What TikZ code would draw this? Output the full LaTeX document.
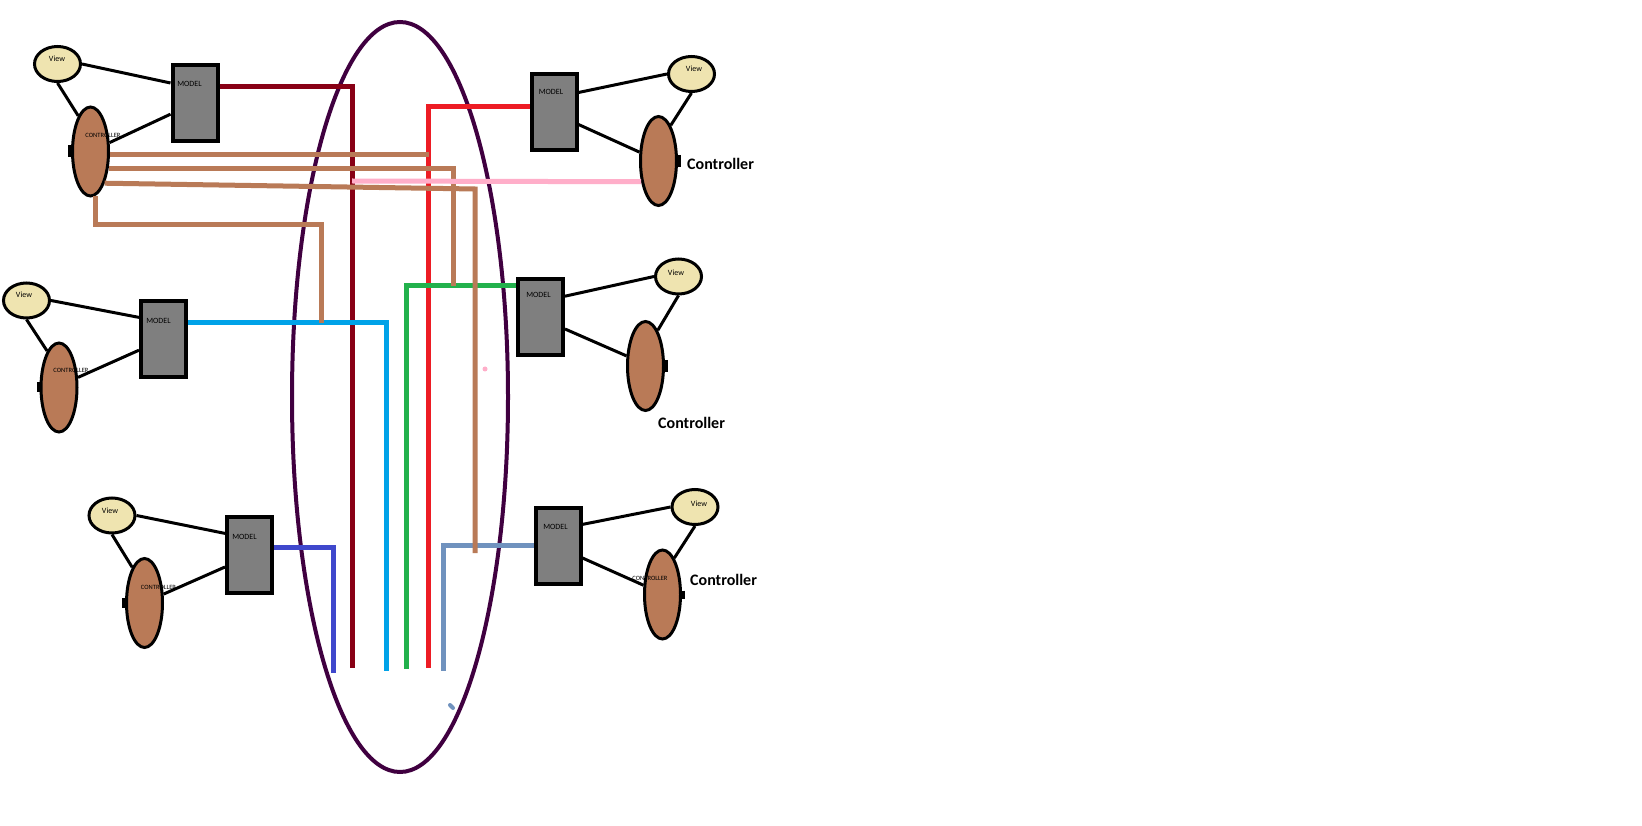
\documentclass[tikz,border=0pt]{standalone}
\usepackage{fontspec}
\setmainfont{Carlito}
\usetikzlibrary{shapes.geometric,calc}
\definecolor{viewc}{RGB}{239,228,176}
\definecolor{ctrlc}{RGB}{185,122,87}
\definecolor{modelc}{RGB}{127,127,127}
\definecolor{busc}{RGB}{64,0,64}
\definecolor{wdred}{RGB}{136,0,21}
\definecolor{wred}{RGB}{237,28,36}
\definecolor{wgreen}{RGB}{34,177,76}
\definecolor{wblue}{RGB}{0,162,232}
\definecolor{windigo}{RGB}{63,72,204}
\definecolor{wsteel}{RGB}{112,146,190}
\definecolor{wpink}{RGB}{255,174,201}
\tikzset{
  viewnode/.style={ellipse, draw=black, line width=3pt, fill=viewc, minimum width=46pt, minimum height=35pt, inner sep=0pt},
  ctrlnode/.style={ellipse, draw=black, line width=3pt, fill=ctrlc, minimum width=36pt, minimum height=89pt, inner sep=0pt},
  modelnode/.style={rectangle, draw=black, line width=4pt, fill=modelc, minimum width=45pt, minimum height=76pt, inner sep=0pt},
  busnode/.style={ellipse, draw=busc, line width=4pt, minimum width=216pt, minimum height=750pt, inner sep=0pt},
  link/.style={draw=black, line width=3pt},
  bump/.style={draw=black, line width=3.5pt},
  wire/.style={line width=5pt},
  tinytxt/.style={font=\fontsize{8}{9}\selectfont, inner sep=0pt, text=black},
  tinierTxt/.style={font=\fontsize{6.5}{7}\selectfont, inner sep=0pt, text=black},
  ctrltxt/.style={font=\fontsize{16}{18}\selectfont\bfseries, inner sep=0pt, anchor=west, text=black}
}
\begin{document}
\begin{tikzpicture}[x=1pt,y=-1pt]
\fill[white] (0,0) rectangle (1642,826);
\useasboundingbox (0,0) rectangle (1642,826);

% central bus ellipse
\node[busnode] (bus) at (400,397) {};

% ---------- nodes ----------
% top-left
\node[viewnode] (V1) at (57.5,64) {};
\node[modelnode] (M1) at (195,103) {};
\node[ctrlnode] (C1) at (90.5,151.5) {};
% middle-left
\node[viewnode] (V2) at (26.5,300.5) {};
\node[modelnode] (M2) at (163.5,339) {};
\node[ctrlnode] (C2) at (59,387.5) {};
% bottom-left
\node[viewnode] (V3) at (112,515.5) {};
\node[modelnode] (M3) at (249.5,555) {};
\node[ctrlnode] (C3) at (144.5,603) {};
% top-right
\node[modelnode] (M4) at (554,112.5) {};
\node[viewnode] (V4) at (691.5,74) {};
\node[ctrlnode] (C4) at (658.5,161) {};
% middle-right
\node[modelnode] (M5) at (540.5,317) {};
\node[viewnode] (V5) at (678.5,276.5) {};
\node[ctrlnode] (C5) at (645.5,366) {};
% bottom-right
\node[modelnode] (M6) at (558,546) {};
\node[viewnode] (V6) at (695,507) {};
\node[ctrlnode] (C6) at (662.5,594.5) {};

% ---------- small bumps ----------
\draw[bump] ($(C1.west)+(-1,-6)$) -- ($(C1.west)+(-1,6)$);
\draw[bump] ($(C2.west)+(-1,-5)$) -- ($(C2.west)+(-1,5)$);
\draw[bump] ($(C3.west)+(-1,-5)$) -- ($(C3.west)+(-1,5)$);
\draw[bump] ($(C4.east)+(1,-6)$) -- ($(C4.east)+(1,6)$);
\draw[bump] ($(C5.east)+(1,-6)$) -- ($(C5.east)+(1,6)$);
\draw[bump] ($(C6.east)+(1,-4)$) -- ($(C6.east)+(1,4)$);

% ---------- black links ----------
\draw[link] (V1.east) -- ($(M1.north west)!0.25!(M1.south west)$);
\draw[link] (C1.25) -- ($(M1.north west)!0.64!(M1.south west)$);
\draw[link] (V1.south) -- (C1.109);

\draw[link] (V2.east) -- ($(M2.north west)!0.23!(M2.south west)$);
\draw[link] (C2.28) -- ($(M2.north west)!0.64!(M2.south west)$);
\draw[link] (V2.south) -- (C2.108);

\draw[link] (V3.east) -- ($(M3.north west)!0.23!(M3.south west)$);
\draw[link] (C3.25) -- ($(M3.north west)!0.65!(M3.south west)$);
\draw[link] (V3.south) -- (C3.109);

\draw[link] ($(M4.north east)!0.25!(M4.south east)$) -- (V4.west);
\draw[link] ($(M4.north east)!0.65!(M4.south east)$) -- (C4.155);
\draw[link] (V4.south) -- (C4.71);

\draw[link] ($(M5.north east)!0.24!(M5.south east)$) -- (V5.west);
\draw[link] ($(M5.north east)!0.65!(M5.south east)$) -- (C5.152);
\draw[link] (V5.south) -- (C5.71);

\draw[link] ($(M6.north east)!0.23!(M6.south east)$) -- (V6.west);
\draw[link] ($(M6.north east)!0.65!(M6.south east)$) -- (C6.154);
\draw[link] (V6.south) -- (C6.72);

% ---------- coloured wires ----------
\coordinate (drEnd) at (352,668);
\coordinate (rEnd) at (428,668);
\coordinate (gEnd) at (406,669);
\coordinate (lbEnd) at (386,671);
\coordinate (inEnd) at (333,673);
\coordinate (sbEnd) at (443,671);
\coordinate (b1) at (429,155);
\coordinate (b2) at (453,286);
\coordinate (b3a) at (475,189);
\coordinate (b3) at (475,553);
\coordinate (b4a) at (321,225);
\coordinate (b4) at (321,323);
\coordinate (pk) at (352,181);

\draw[wire, wdred] ($(M1.north east)!0.29!(M1.south east)$) -| (drEnd);
\draw[wire, wred] ($(M4.north west)!0.43!(M4.south west)$) -| (rEnd);
\draw[wire, wgreen] ($(M5.north west)!0.11!(M5.south west)$) -| (gEnd);
\draw[wire, wblue] ($(M2.north east)!0.29!(M2.south east)$) -| (lbEnd);
\draw[wire, windigo] ($(M3.north east)!0.41!(M3.south east)$) -| (inEnd);
\draw[wire, wsteel] ($(M6.north west)!0.49!(M6.south west)$) -| (sbEnd);

\draw[wire, ctrlc] (C1.-10) -- (C1.-10 -| b1);
\draw[wire, ctrlc] (C1.-44) -| (b2);
\draw[wire, ctrlc] (C1.-66) -- (b3a) -- (b3);
\draw[wire, ctrlc] (C1.-84) |- (b4a) -- (b4);

\draw[wire, wpink] (pk) -- (C4.-130);

% stray dots
\fill[wpink] (485,369) circle (2.5);
\draw[wsteel, line width=4pt, line cap=round] (450,705) -- (453,708);

% ---------- texts ----------
\node[tinytxt] (V1t) at (57,59) {View};
\node[tinytxt] (V2t) at (24,295) {View};
\node[tinytxt] (V3t) at (110,511) {View};
\node[tinytxt] (V4t) at (694,69) {View};
\node[tinytxt] (V5t) at (676,273) {View};
\node[tinytxt] (V6t) at (699,504) {View};

\node[tinytxt] (M1t) at (189.5,84) {MODEL};
\node[tinytxt] (M2t) at (158.5,321) {MODEL};
\node[tinytxt] (M3t) at (244.5,537) {MODEL};
\node[tinytxt] (M4t) at (551,92) {MODEL};
\node[tinytxt] (M5t) at (538.5,295) {MODEL};
\node[tinytxt] (M6t) at (555.5,527) {MODEL};

\node[tinierTxt] (C1t) at (103,135) {CONTROLLER};
\node[tinierTxt] (C2t) at (71,370) {CONTROLLER};
\node[tinierTxt] (C3t) at (158.5,587) {CONTROLLER};
\node[tinierTxt] (C6t) at (650,578) {CONTROLLER};

\node[ctrltxt] (L4) at (687,164) {Controller};
\node[ctrltxt] (L5) at (658,423) {Controller};
\node[ctrltxt] (L6) at (690,580) {Controller};
\end{tikzpicture}
\end{document}
